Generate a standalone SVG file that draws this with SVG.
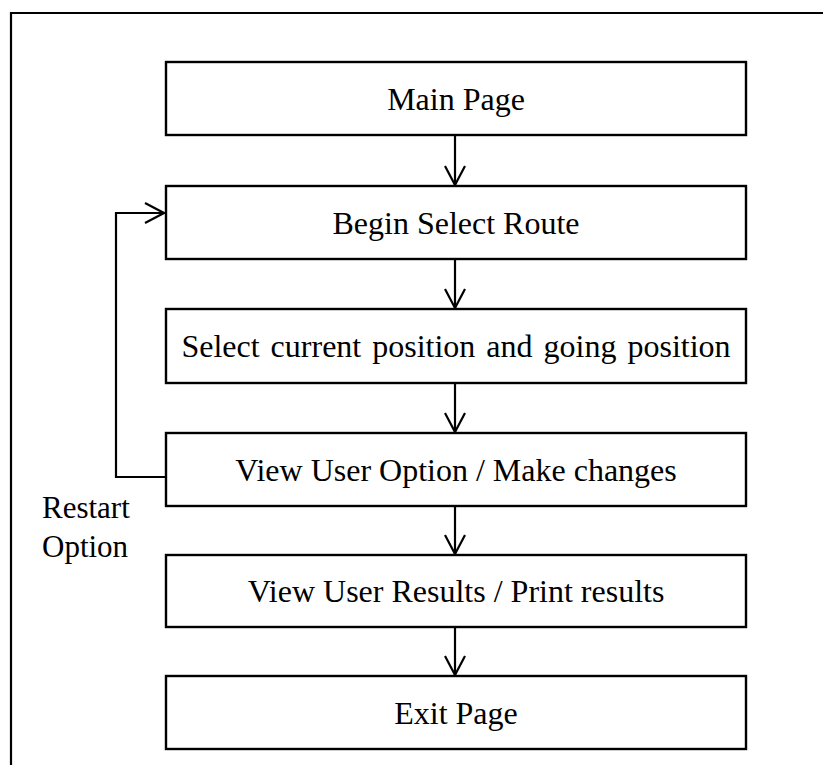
<svg xmlns="http://www.w3.org/2000/svg" width="823" height="765" viewBox="0 0 823 765">
  <style>
    .box { fill: #fff; stroke: #000; stroke-width: 2.4; }
    .lbl { font-family: "Liberation Serif", "Times New Roman", serif; font-size: 32px; fill: #000; text-anchor: middle; }
    .side { font-family: "Liberation Serif", "Times New Roman", serif; font-size: 31px; fill: #000; }
    .edge { fill: none; stroke: #000; stroke-width: 2.2; }
  </style>
  <defs>
    <marker id="arrow" viewBox="0 0 22 22" refX="20" refY="11" markerWidth="22" markerHeight="22" markerUnits="userSpaceOnUse" orient="auto">
      <path d="M1,1 L20,11 L1,21" fill="none" stroke="#000" stroke-width="2.2"/>
    </marker>
  </defs>
  <rect width="823" height="765" fill="#fff"/>

  <!-- frame (left and top edges) -->
  <g id="frame">
    <path d="M11,765 L11,13 L823,13" fill="none" stroke="#000" stroke-width="2.2"/>
  </g>

  <g id="main-page">
    <rect class="box" x="166" y="62" width="580" height="73"/>
    <text class="lbl" x="456" y="110">Main Page</text>
  </g>
  <g id="begin-select-route">
    <rect class="box" x="166" y="186" width="580" height="73"/>
    <text class="lbl" x="456" y="234">Begin Select Route</text>
  </g>
  <g id="select-position">
    <rect class="box" x="166" y="309" width="580" height="74"/>
    <text class="lbl" x="456" y="357" word-spacing="3">Select current position and going position</text>
  </g>
  <g id="view-user-option">
    <rect class="box" x="166" y="433" width="580" height="73"/>
    <text class="lbl" x="456" y="481">View User Option / Make changes</text>
  </g>
  <g id="view-user-results">
    <rect class="box" x="166" y="555" width="580" height="72"/>
    <text class="lbl" x="456" y="602">View User Results / Print results</text>
  </g>
  <g id="exit-page">
    <rect class="box" x="166" y="676" width="580" height="73"/>
    <text class="lbl" x="456" y="724">Exit Page</text>
  </g>

  <g id="restart-label">
    <text class="side" x="42" y="518">Restart</text>
    <text class="side" x="42" y="557">Option</text>
  </g>

  <g id="connectors">
    <line class="edge" x1="455" y1="135" x2="455" y2="185" marker-end="url(#arrow)"/>
    <line class="edge" x1="455" y1="259" x2="455" y2="308" marker-end="url(#arrow)"/>
    <line class="edge" x1="455" y1="383" x2="455" y2="432" marker-end="url(#arrow)"/>
    <line class="edge" x1="455" y1="506" x2="455" y2="554" marker-end="url(#arrow)"/>
    <line class="edge" x1="455" y1="627" x2="455" y2="675" marker-end="url(#arrow)"/>
    <path class="edge" d="M166,477 L116,477 L116,213 L164,213" marker-end="url(#arrow)"/>
  </g>
</svg>
